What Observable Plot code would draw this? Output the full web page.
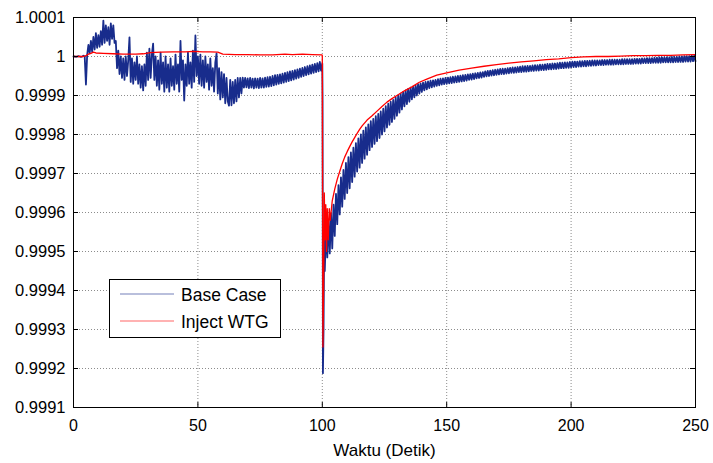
<!DOCTYPE html>
<html>
<head>
<meta charset="utf-8">
<script src="https://cdn.jsdelivr.net/npm/d3@7"></script>
<script src="https://cdn.jsdelivr.net/npm/@observablehq/plot@0.6"></script>
<style>
  html, body { margin: 0; padding: 0; background: #fff; }
  #chart { width: 713px; height: 463px; }
</style>
</head>
<body>
<div id="chart"></div>
<script>
// ---------- data ----------
const xTicks = [0, 50, 100, 150, 200, 250];
const xTickLabels = ["0", "50", "100", "150", "200", "250"];
const yTicks = [0.9991, 0.9992, 0.9993, 0.9994, 0.9995, 0.9996, 0.9997, 0.9998, 0.9999, 1, 1.0001];
const yTickLabels = ["0.9991", "0.9992", "0.9993", "0.9994", "0.9995", "0.9996", "0.9997", "0.9998", "0.9999", "1", "1.0001"];
const seriesNames = ["Base Case", "Inject WTG"];
const xLabel = "Waktu (Detik)";

// Base Case: samples every 0.5 s from t = 0 to 99.5
const baseStartA = 0;
const baseStepA = 0.5;
const baseSegA = [
  1, 1, 0.999999, 1, 1.000001, 1, 0.999999, 1, 1.000002, 1,
  0.999928, 1.000005, 1.00003, 1.000008, 1.00004, 1.000012, 1.00005, 1.000018, 1.00006, 1.000022,
  1.000055, 1.000025, 1.000065, 1.00003, 1.000092, 1.000035, 1.00008, 1.00004, 1.000075, 1.00003,
  1.000085, 1.000045, 1.00008, 1.000035, 1.00004, 0.99997, 1.000015, 0.999955, 1, 0.999945,
  0.999995, 0.99994, 1, 0.99995, 0.99999, 1.000049, 0.999935, 0.999995, 0.99993, 0.999985,
  0.99994, 1, 0.99993, 0.99998, 0.99992, 0.999975, 0.999913, 0.99998, 0.999925, 1.00001,
  0.99994, 1.00002, 0.999945, 1.000005, 1.000033, 0.99994, 1, 0.999925, 0.99999, 0.999915,
  1.00001, 0.99993, 0.999985, 0.99991, 1, 0.99992, 0.99998, 0.99991, 0.999995, 0.999925,
  0.999975, 0.999915, 1.000005, 0.99993, 0.99998, 0.99991, 1.00004, 0.99994, 0.99999, 0.999887,
  0.99998, 0.999925, 1.00001, 0.99993, 0.999985, 0.99992, 1.000015, 0.999935, 1.000054, 0.99995,
  1, 0.99993, 1.000005, 0.999925, 0.99999, 0.99992, 1, 0.999935, 0.99998, 0.999915,
  0.999995, 0.999925, 0.99997, 0.99991, 0.999985, 1.000008, 0.999905, 0.99997, 0.99989, 0.99996,
  0.999895, 0.999955, 0.99988, 0.999945, 0.999885, 0.999874, 0.99994, 0.999875, 0.999935, 0.99988,
  0.99994, 0.999885, 0.999945, 0.999895, 0.999945, 0.999905, 0.999946, 0.99992, 0.999945, 0.999921,
  0.999944, 0.999919, 0.999945, 0.99992, 0.999943, 0.999918, 0.999944, 0.99992, 0.999943, 0.999919,
  0.999945, 0.99992, 0.999944, 0.99992, 0.999946, 0.999922, 0.999947, 0.999923, 0.999948, 0.999924,
  0.99995, 0.999926, 0.999952, 0.999928, 0.999953, 0.99993, 0.999954, 0.999931, 0.999956, 0.999933,
  0.999958, 0.999935, 0.99996, 0.999937, 0.999962, 0.999939, 0.999963, 0.999941, 0.999965, 0.999943,
  0.999967, 0.999945, 0.999969, 0.999948, 0.999971, 0.99995, 0.999973, 0.999952, 0.999975, 0.999954,
  0.999977, 0.999956, 0.999979, 0.999958, 0.999981, 0.99996, 0.999983, 0.999962, 0.999986, 0.999964
];
// Base Case: the fault at t = 100 s
const baseDipTime = [100, 100.1, 100.25, 100.5, 100.75];
const baseDipValue = [0.999982, 0.9999, 0.999188, 0.9993, 0.99953];
// Base Case: samples every 0.5 s from t = 101 to 250
const baseStartB = 101;
const baseStepB = 0.5;
const baseSegB = [
  0.99945, 0.99956, 0.999485, 0.999582, 0.999495, 0.999598, 0.999508, 0.99962, 0.99954, 0.999648,
  0.99957, 0.99967, 0.999595, 0.99969, 0.999615, 0.999709, 0.999635, 0.999727, 0.99965, 0.999742,
  0.999662, 0.999754, 0.999678, 0.999766, 0.999692, 0.999778, 0.999705, 0.99979, 0.999715, 0.9998,
  0.999727, 0.99981, 0.999738, 0.999818, 0.999748, 0.999826, 0.99976, 0.999834, 0.999768, 0.99984,
  0.999776, 0.999847, 0.999783, 0.999853, 0.999791, 0.999859, 0.9998, 0.999866, 0.999808, 0.999873,
  0.999818, 0.999879, 0.999825, 0.999884, 0.999832, 0.999889, 0.99984, 0.999895, 0.999848, 0.9999,
  0.999856, 0.999905, 0.999864, 0.999909, 0.999872, 0.999913, 0.999878, 0.999917, 0.999884, 0.99992,
  0.99989, 0.999923, 0.999895, 0.999926, 0.9999, 0.999929, 0.999905, 0.999931, 0.999909, 0.999933,
  0.999913, 0.999935, 0.999916, 0.999936, 0.999919, 0.999938, 0.999921, 0.999939, 0.999923, 0.99994,
  0.999925, 0.999942, 0.999926, 0.999943, 0.999928, 0.999944, 0.999929, 0.999945, 0.99993, 0.999946,
  0.999931, 0.999947, 0.999932, 0.999948, 0.999933, 0.999949, 0.999934, 0.99995, 0.999935, 0.999951,
  0.999936, 0.999952, 0.999937, 0.999953, 0.999938, 0.999954, 0.99994, 0.999955, 0.999941, 0.999956,
  0.999942, 0.999957, 0.999944, 0.999958, 0.999945, 0.999959, 0.999946, 0.99996, 0.999948, 0.999962,
  0.999949, 0.999963, 0.99995, 0.999964, 0.999951, 0.999965, 0.999952, 0.999966, 0.999953, 0.999967,
  0.999954, 0.999968, 0.999955, 0.999969, 0.999955, 0.999969, 0.999956, 0.99997, 0.999957, 0.999971,
  0.999958, 0.999972, 0.999958, 0.999972, 0.999959, 0.999973, 0.99996, 0.999974, 0.99996, 0.999975,
  0.999961, 0.999975, 0.999961, 0.999976, 0.999962, 0.999976, 0.999963, 0.999977, 0.999963, 0.999978,
  0.999964, 0.999978, 0.999964, 0.999979, 0.999965, 0.999979, 0.999965, 0.99998, 0.999966, 0.999981,
  0.999967, 0.999981, 0.999967, 0.999982, 0.999968, 0.999982, 0.999968, 0.999983, 0.999969, 0.999984,
  0.99997, 0.999984, 0.99997, 0.999985, 0.999971, 0.999985, 0.999971, 0.999986, 0.999972, 0.999987,
  0.999973, 0.999987, 0.999973, 0.999987, 0.999974, 0.999988, 0.999974, 0.999988, 0.999975, 0.999989,
  0.999975, 0.999989, 0.999976, 0.999989, 0.999976, 0.99999, 0.999977, 0.99999, 0.999977, 0.99999,
  0.999978, 0.99999, 0.999978, 0.999991, 0.999978, 0.999991, 0.999979, 0.999991, 0.999979, 0.999992,
  0.999979, 0.999992, 0.999979, 0.999992, 0.99998, 0.999992, 0.99998, 0.999992, 0.99998, 0.999993,
  0.99998, 0.999993, 0.999981, 0.999993, 0.999981, 0.999993, 0.999981, 0.999993, 0.999981, 0.999994,
  0.999982, 0.999994, 0.999982, 0.999994, 0.999982, 0.999995, 0.999983, 0.999995, 0.999983, 0.999996,
  0.999983, 0.999996, 0.999983, 0.999996, 0.999984, 0.999997, 0.999984, 0.999997, 0.999984, 0.999998,
  0.999984, 0.999998, 0.999985, 0.999998, 0.999985, 0.999998, 0.999985, 0.999998, 0.999985, 0.999999,
  0.999985, 0.999999, 0.999986, 0.999999, 0.999986, 1, 0.999986, 1, 0.999986, 1.000001,
  0.999987, 1.000001, 0.999987, 1.000001, 0.999987, 1.000002, 0.999988, 1.000002, 0.999988
];

// Inject WTG
const injectTime = [
  0, 4, 5, 6, 7, 8, 9, 12, 16, 20,
  25, 28, 31, 35, 40, 45, 48, 52, 55, 58,
  60, 65, 70, 75, 80, 85, 88, 92, 96, 99.9,
  100, 100.25, 100.5, 100.8, 101.1, 101.4, 101.7, 102, 102.4, 102.8,
  103.2, 104, 105, 106, 107, 108, 109, 110, 111, 112,
  113, 114, 115, 116, 118, 120, 122, 124, 126, 128,
  130, 133, 136, 139, 142, 146, 150, 155, 160, 165,
  170, 175, 180, 185, 190, 195, 200, 205, 210, 215,
  220, 225, 230, 235, 240, 245, 250
];
const injectValue = [
  1, 1, 1.000002, 1.000006, 1.000008, 1.000011, 1.000009, 1.000008, 1.000007, 1.000006,
  1.000006, 1.000007, 1.00001, 1.000011, 1.000012, 1.000012, 1.000013, 1.000012, 1.000012, 1.000011,
  1.000006, 1.000005, 1.000005, 1.000004, 1.000004, 1.000006, 1.000005, 1.000006, 1.000005, 1.000004,
  1.000002, 0.999255, 0.9994, 0.99965, 0.99953, 0.99962, 0.9995, 0.99961, 0.99953, 0.99961,
  0.99958, 0.99963, 0.99966, 0.999685, 0.999705, 0.999725, 0.999742, 0.999756, 0.999769, 0.999781,
  0.999792, 0.999803, 0.999813, 0.999822, 0.999837, 0.999848, 0.99986, 0.999872, 0.999883, 0.999892,
  0.9999, 0.999912, 0.999922, 0.999934, 0.999942, 0.999952, 0.999958, 0.999965, 0.99997, 0.999975,
  0.999979, 0.999983, 0.999986, 0.999989, 0.999992, 0.999994, 0.999997, 0.999999, 1, 1,
  1.000001, 1.000002, 1.000002, 1.000003, 1.000003, 1.000004, 1.000005
];

// ---------- build tables ----------
const baseData = [];
baseSegA.forEach((v, i) => baseData.push({t: baseStartA + i * baseStepA, v}));
baseDipTime.forEach((t, i) => baseData.push({t, v: baseDipValue[i]}));
baseSegB.forEach((v, i) => baseData.push({t: baseStartB + i * baseStepB, v}));
const injectData = injectTime.map((t, i) => ({t, v: injectValue[i]}));

const BLUE = "#182c8c";
const RED = "#ff0000";
const W = 713, H = 463;
const mL = 73, mR = 18, mT = 17, mB = 56;
const innerW = W - mL - mR, innerH = H - mT - mB;
const tickLen = 5;
const gridStyle = {stroke: "#8c8c8c", strokeOpacity: 1, strokeWidth: 1, strokeDasharray: "1,2"};
const yFmt = new Map(yTicks.map((d, i) => [d, yTickLabels[i]]));
const xFmt = new Map(xTicks.map((d, i) => [d, xTickLabels[i]]));

const chart = Plot.plot({
  width: W, height: H,
  marginLeft: mL, marginRight: mR, marginTop: mT, marginBottom: mB,
  style: {fontFamily: "'Liberation Sans', Arial, sans-serif", fontSize: "16px", background: "#fff", color: "#000"},
  x: {domain: [0, 250]},
  y: {domain: [0.9991, 1.0001]},
  marks: [
    Plot.gridX(xTicks, gridStyle),
    Plot.gridY(yTicks, gridStyle),
    Plot.line(baseData, {x: "t", y: "v", stroke: BLUE, strokeWidth: 1.8}),
    Plot.line(injectData, {x: "t", y: "v", stroke: RED, strokeWidth: 1.3}),
    // inward ticks on all four sides
    Plot.tickX(xTicks, {x: d => d, stroke: "#000", insetTop: innerH - tickLen}),
    Plot.tickX(xTicks, {x: d => d, stroke: "#000", insetBottom: innerH - tickLen}),
    Plot.tickY(yTicks, {y: d => d, stroke: "#000", insetRight: innerW - tickLen}),
    Plot.tickY(yTicks, {y: d => d, stroke: "#000", insetLeft: innerW - tickLen}),
    Plot.frame({stroke: "#000", strokeWidth: 1}),
    Plot.axisX(xTicks, {anchor: "bottom", tickSize: 0, tickPadding: 12, fontSize: 16,
      tickFormat: d => xFmt.get(d), label: xLabel, labelAnchor: "center", labelArrow: "none", labelOffset: 48}),
    Plot.axisY(yTicks, {anchor: "left", tickSize: 0, tickPadding: 8, fontSize: 16.5,
      tickFormat: d => yFmt.get(d), label: null})
  ]
});
document.getElementById("chart").appendChild(chart);

// ---------- legend (inside the plot, lower left) ----------
const svg = d3.select(chart);
svg.selectAll("[aria-label='x-axis label'] text").style("font-size", "17px");
const lg = svg.append("g").attr("class", "legend")
  .attr("text-anchor", "start")
  .style("font-family", "'Liberation Sans', Arial, sans-serif").style("font-size", "17.5px");
lg.append("rect").attr("x", 109.5).attr("y", 279.5).attr("width", 171).attr("height", 58)
  .attr("fill", "#fff").attr("stroke", "#000").attr("stroke-width", 1);
const legendColors = [BLUE, RED];
seriesNames.forEach((name, i) => {
  const cy = 294 + i * 27;
  lg.append("line").attr("x1", 120).attr("x2", 174).attr("y1", cy).attr("y2", cy)
    .attr("stroke", legendColors[i]).attr("stroke-opacity", 0.6).attr("stroke-width", 1.2);
  lg.append("text").attr("x", 181).attr("y", cy + 7).attr("text-anchor", "start").attr("fill", "#000").text(name);
});
</script>
</body>
</html>
